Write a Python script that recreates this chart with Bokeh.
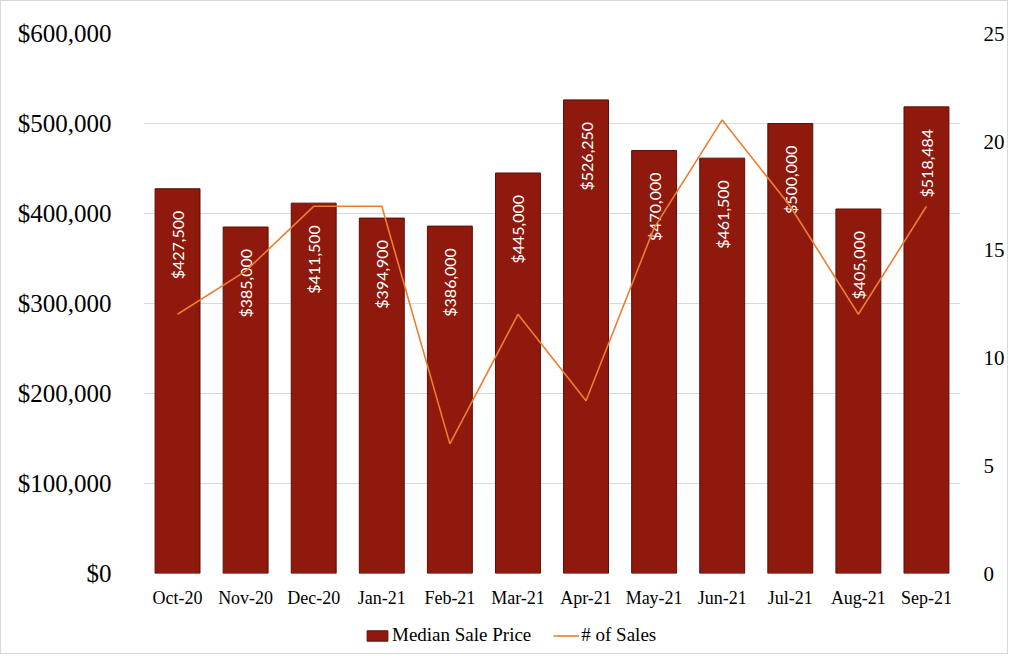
from bokeh.plotting import figure
from bokeh.layouts import column
from bokeh.models import Range1d, LinearAxis, Legend, LegendItem, NumeralTickFormatter, FixedTicker, ColumnDataSource
from bokeh.core.properties import value
from bokeh.embed import file_html
from bokeh.resources import INLINE
import math

months = ["Oct-20", "Nov-20", "Dec-20", "Jan-21", "Feb-21", "Mar-21", "Apr-21", "May-21", "Jun-21", "Jul-21", "Aug-21", "Sep-21"]
median_price = [427500, 385000, 411500, 394900, 386000, 445000, 526250, 470000, 461500, 500000, 405000, 518484]
num_sales = [12, 14, 17, 17, 6, 12, 8, 16, 21, 17, 12, 17]
price_ticks = [0, 100000, 200000, 300000, 400000, 500000, 600000]
sales_ticks = [0, 5, 10, 15, 20, 25]

BAR_FILL = "#8e190c"
BAR_LINE = "#5c0f07"
LINE_COL = "#ed7d31"

labels = ["${:,}".format(v) for v in median_price]
src = ColumnDataSource(dict(m=months, price=median_price, sales=num_sales, lab=labels))

p = figure(x_range=months, y_range=Range1d(0, 600000), width=1006, height=610,
           output_backend="svg", toolbar_location=None,
           min_border_left=142, min_border_right=47, min_border_top=32, min_border_bottom=38)
p.extra_y_ranges = {"sales": Range1d(0, 25)}
p.outline_line_color = None

bars = p.vbar(x="m", top="price", width=0.66, source=src, fill_color=BAR_FILL,
              line_color=BAR_LINE, line_width=1)
p.text(x="m", y="price", text="lab", source=src, angle=math.pi / 2, text_align="right",
       text_baseline="middle", x_offset=0, y_offset=22, text_color="white",
       text_font=value("Lato"), text_font_size="16px")

line = p.line(x="m", y="sales", source=src, y_range_name="sales", line_color=LINE_COL, line_width=1.6)

p.xgrid.grid_line_color = None
p.ygrid.grid_line_color = "#d9d9d9"
p.ygrid.ticker = FixedTicker(ticks=price_ticks)

p.yaxis.ticker = FixedTicker(ticks=price_ticks)
p.yaxis.formatter = NumeralTickFormatter(format="$0,0")
for ax in [p.yaxis[0], p.xaxis[0]]:
    ax.axis_line_color = None
    ax.major_tick_line_color = None
    ax.minor_tick_line_color = None

p.yaxis.major_label_text_font = "Liberation Serif"
p.yaxis.major_label_text_font_size = "25px"
p.yaxis.major_label_text_color = "black"
p.yaxis.major_label_standoff = 26

p.xaxis.major_label_text_font = "Liberation Serif"
p.xaxis.major_label_text_font_size = "18px"
p.xaxis.major_label_text_color = "black"
p.xaxis.major_label_standoff = 8

ry = LinearAxis(y_range_name="sales", ticker=FixedTicker(ticks=sales_ticks))
ry.axis_line_color = None
ry.major_tick_line_color = None
ry.minor_tick_line_color = None
ry.major_label_text_font = "Liberation Serif"
ry.major_label_text_font_size = "21px"
ry.major_label_text_color = "black"
ry.major_label_standoff = 17
p.add_layout(ry, "right")

# legend strip: same series with hidden renderers, so only the legend shows
lg = figure(width=1006, height=42, output_backend="svg", toolbar_location=None,
            min_border=0, x_range=months, y_range=Range1d(-2e7, -1.9e7))
lg.extra_y_ranges = {"sales": Range1d(-2000, -1900)}
lg.axis.visible = False
lg.grid.visible = False
lg.outline_line_color = None
rb = lg.vbar(x="m", top="price", width=0.66, source=src, fill_color=BAR_FILL, line_color=BAR_LINE)
rl = lg.line(x="m", y="sales", source=src, y_range_name="sales", line_color=LINE_COL, line_width=1.6)
rb.visible = False
rl.visible = False
legend = Legend(items=[LegendItem(label="Median Sale Price", renderers=[rb]),
                       LegendItem(label="# of Sales", renderers=[rl])],
                orientation="horizontal", location=(221, 7), border_line_color=None,
                background_fill_alpha=0, label_text_color="black",
                label_text_font="Liberation Serif",
                label_text_font_size="19px", glyph_width=26, glyph_height=13, spacing=22,
                padding=0, margin=0, label_standoff=2)
lg.add_layout(legend, "center")

layout = column(p, lg, spacing=0)
layout.styles = {"border": "1px solid #d9d9d9"}

open("out.html", "w").write(file_html(layout, INLINE))
